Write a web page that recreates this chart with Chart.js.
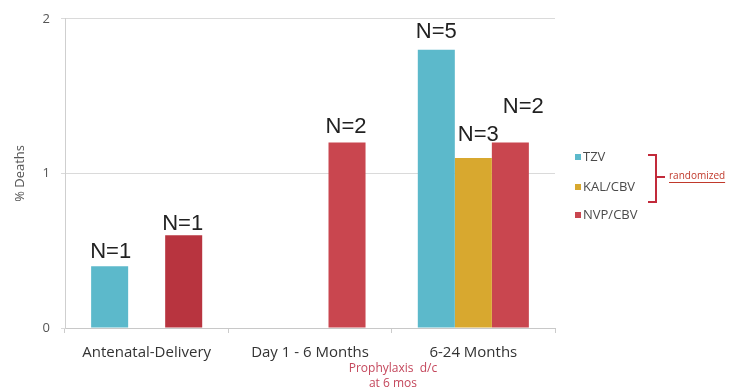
<!DOCTYPE html>
<html>
<head>
<meta charset="utf-8">
<script src="https://cdn.jsdelivr.net/npm/chart.js@4/dist/chart.umd.min.js"></script>
<style>
  html, body { margin: 0; padding: 0; background: #ffffff; }
  #wrap { width: 743px; height: 390px; }
</style>
</head>
<body>
<div id="wrap"><canvas id="c" width="743" height="390"></canvas></div>
<script>
// Periods of follow-up
const categories = ['Antenatal-Delivery', 'Day 1 - 6 Months', '6-24 Months'];

// % deaths per arm
const tzvValues = [0.4, null, 1.8];
const kalValues = [null, null, 1.1];
const nvpValues = [0.6, 1.2, 1.2];

// Number of deaths per arm
const tzvCounts = [1, null, 5];
const kalCounts = [null, null, 3];
const nvpCounts = [1, 2, 2];

const yTicks = [0, 1, 2];

const COLORS = {
  tzv: '#5cb9cb',
  kal: '#d8a82f',
  nvp: '#c9464f',
  nvpDark: '#b8343f'
};

// Count labels drawn above each bar; dx/dy nudge individual labels
const countLabels = {
  id: 'countLabels',
  afterDatasetsDraw(chart, args, opts) {
    const ctx = chart.ctx;
    ctx.save();
    ctx.font = '22px "Liberation Sans", Arial, sans-serif';
    ctx.fillStyle = '#222222';
    ctx.textAlign = 'center';
    ctx.textBaseline = 'alphabetic';
    chart.data.datasets.forEach((ds, di) => {
      const meta = chart.getDatasetMeta(di);
      meta.data.forEach((bar, i) => {
        const n = ds.counts[i];
        if (n == null || ds.data[i] == null) return;
        const off = (opts.nudge[di] && opts.nudge[di][i]) || [0, 8];
        ctx.fillText('N=' + n, bar.x + off[0], bar.y - off[1]);
      });
    });
    ctx.restore();
  }
};

// Legend with the bracket marking randomized arms, plus footnote
const sideNotes = {
  id: 'sideNotes',
  afterDraw(chart) {
    const ctx = chart.ctx;
    ctx.save();
    const rows = [157, 187, 215];
    ctx.font = '13px "Open Sans", sans-serif';
    ctx.textBaseline = 'middle';
    ctx.textAlign = 'left';
    chart.data.datasets.forEach((ds, di) => {
      const y = rows[di];
      ctx.fillStyle = ds.legendColor;
      ctx.fillRect(575, y - 3, 6, 6);
      ctx.fillStyle = '#4a4a4a';
      ctx.fillText(ds.label, 583, y);
    });

    // bracket
    ctx.strokeStyle = '#c22a3a';
    ctx.lineWidth = 2;
    ctx.beginPath();
    ctx.moveTo(648, 155);
    ctx.lineTo(656, 155);
    ctx.lineTo(656, 202);
    ctx.lineTo(648, 202);
    ctx.moveTo(656, 177);
    ctx.lineTo(665, 177);
    ctx.stroke();

    ctx.font = '10px "Open Sans", sans-serif';
    ctx.fillStyle = '#c0392b';
    ctx.fillText('randomized', 669, 176);
    const w = ctx.measureText('randomized').width;
    ctx.strokeStyle = '#c0392b';
    ctx.lineWidth = 1;
    ctx.beginPath();
    ctx.moveTo(669, 182.5);
    ctx.lineTo(669 + w, 182.5);
    ctx.stroke();

    // footnote under the middle period
    ctx.font = '12px "Open Sans", sans-serif';
    ctx.fillStyle = '#c4475c';
    ctx.textAlign = 'center';
    ctx.fillText('Prophylaxis  d/c', 393, 369);
    ctx.fillText('at 6 mos', 393, 384);
    ctx.restore();
  }
};

const nvpBarColors = nvpValues.map((v, i) => i === 0 ? COLORS.nvpDark : COLORS.nvp);

new Chart(document.getElementById('c'), {
  type: 'bar',
  data: {
    labels: categories,
    datasets: [
      { label: 'TZV', data: tzvValues, counts: tzvCounts,
        backgroundColor: COLORS.tzv, legendColor: COLORS.tzv },
      { label: 'KAL/CBV', data: kalValues, counts: kalCounts,
        backgroundColor: COLORS.kal, legendColor: COLORS.kal },
      { label: 'NVP/CBV', data: nvpValues, counts: nvpCounts,
        backgroundColor: nvpBarColors, legendColor: COLORS.nvp }
    ]
  },
  options: {
    responsive: false,
    animation: false,
    layout: { padding: { left: 0, right: 188, top: 18, bottom: 0 } },
    datasets: { bar: { categoryPercentage: 0.68, barPercentage: 1.0 } },
    plugins: {
      legend: { display: false },
      tooltip: { enabled: false },
      countLabels: {
        nudge: [
          [[1, 8], null, [0, 12]],
          [null, null, [5, 17]],
          [[-1, 5], [-1, 9], [13, 29]]
        ]
      }
    },
    scales: {
      x: {
        afterFit(scale) { scale.height = 62; },
        grid: { drawOnChartArea: false, drawTicks: true, tickLength: 5, color: '#cccccc' },
        border: { color: '#c8c8c8' },
        ticks: {
          color: '#333333',
          padding: 11,
          font: { family: '"Open Sans", sans-serif', size: 15 }
        }
      },
      y: {
        min: 0,
        max: 2,
        afterFit(scale) { scale.width = 65; },
        afterBuildTicks(scale) { scale.ticks = yTicks.map(v => ({ value: v })); },
        grid: { color: '#dadada', drawTicks: true, tickLength: 4 },
        border: { color: '#cfcfcf' },
        ticks: {
          color: '#555555',
          padding: 11,
          font: { family: '"Open Sans", sans-serif', size: 13 }
        },
        title: {
          display: true,
          text: '% Deaths',
          color: '#555555',
          padding: { top: 12, bottom: 0 },
          font: { family: '"Open Sans", sans-serif', size: 13 }
        }
      }
    }
  },
  plugins: [countLabels, sideNotes]
});
</script>
</body>
</html>
